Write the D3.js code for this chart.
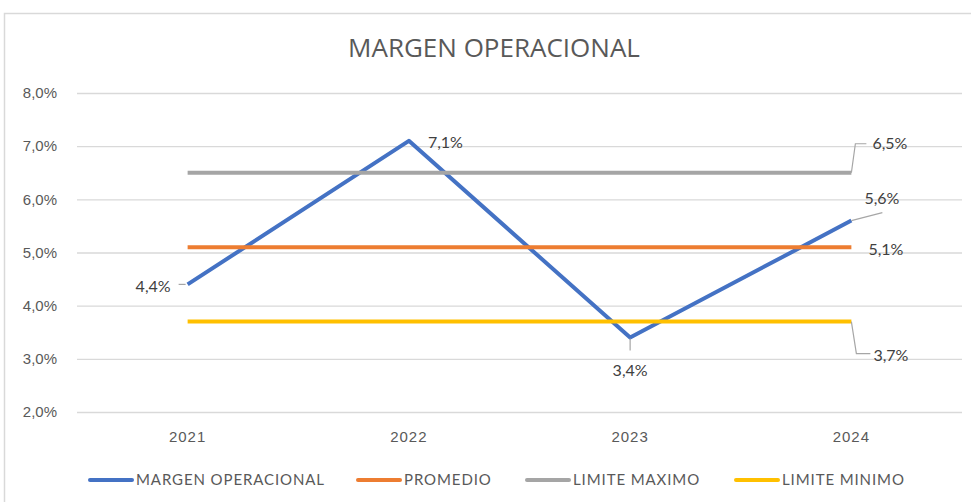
<!DOCTYPE html>
<html>
<head>
<meta charset="utf-8">
<script src="https://cdn.jsdelivr.net/npm/d3@7"></script>
<style>
  html, body { margin: 0; padding: 0; background: #fff; }
  svg { display: block; font-family: Lato, "Open Sans", sans-serif; }
</style>
</head>
<body>
<svg id="chart" width="971" height="502"></svg>
<script>
// Operating margin by year with reference limits
const years = ["2021", "2022", "2023", "2024"];
const margenOperacional = [4.4, 7.1, 3.4, 5.6];
const promedio = [5.1, 5.1, 5.1, 5.1];
const limiteMaximo = [6.5, 6.5, 6.5, 6.5];
const limiteMinimo = [3.7, 3.7, 3.7, 3.7];
const yTicks = [2, 3, 4, 5, 6, 7, 8];

const series = [
  { name: "MARGEN OPERACIONAL", values: margenOperacional, color: "#4472C4" },
  { name: "PROMEDIO", values: promedio, color: "#ED7D31" },
  { name: "LIMITE MAXIMO", values: limiteMaximo, color: "#A5A5A5" },
  { name: "LIMITE MINIMO", values: limiteMinimo, color: "#FFC000" }
];

const fmt = v => d3.format(".1f")(v).replace(".", ",") + "%";
const textColor = "#595959";

const svg = d3.select("#chart");

// chart frame
svg.append("rect")
  .attr("x", 4.5).attr("y", 13.5)
  .attr("width", 980).attr("height", 500)
  .attr("fill", "none").attr("stroke", "#D9D9D9").attr("stroke-width", 1.5);

const plot = { left: 77, right: 962, top: 93, bottom: 412 };

const x = d3.scaleBand().domain(years).range([plot.left, plot.right]);
const xc = d => x(d) + x.bandwidth() / 2;
const y = d3.scaleLinear().domain([2, 8]).range([plot.bottom, plot.top]);

// title
svg.append("text")
  .attr("x", 494).attr("y", 57)
  .attr("text-anchor", "middle")
  .attr("fill", textColor)
  .style("font-size", "26px")
  .style("font-family", "'Liberation Sans Narrow', 'Open Sans', sans-serif")
  .text("MARGEN OPERACIONAL");

// gridlines + y axis labels
const yAxis = d3.axisLeft(y).tickValues(yTicks)
  .tickSize(-(plot.right - plot.left)).tickPadding(20)
  .tickFormat(d => fmt(d));
const gy = svg.append("g").attr("transform", `translate(${plot.left},0)`).call(yAxis);
gy.select(".domain").remove();
gy.selectAll(".tick line").attr("stroke", "#D9D9D9").attr("stroke-width", 1.3);
gy.selectAll(".tick text").attr("fill", textColor).style("font-size", "15px");

// x axis labels
const xAxis = d3.axisBottom(x).tickSize(0).tickPadding(19);
const gx = svg.append("g").attr("transform", `translate(0,${plot.bottom})`).call(xAxis);
gx.select(".domain").remove();
gx.selectAll(".tick text").attr("fill", textColor)
  .style("font-size", "15px").style("letter-spacing", "1px");

// series lines
const line = d3.line().x((d, i) => xc(years[i])).y(d => y(d));
series.forEach(s => {
  svg.append("path")
    .datum(s.values)
    .attr("d", line)
    .attr("fill", "none")
    .attr("stroke", s.color)
    .attr("stroke-width", 4)
    .attr("stroke-linejoin", "round")
    .attr("stroke-linecap", "butt");
});

// data labels with leader lines
const lead = "#A6A6A6";
const labels = [
  { v: margenOperacional[0], xi: 0, dx: -17, dy: 2, anchor: "end", leader: d => [[d.x - 2, d.y], [d.x - 9, d.y]] },
  { v: margenOperacional[1], xi: 1, dx: 19, dy: 2, anchor: "start", leader: null },
  { v: margenOperacional[2], xi: 2, dx: 0, dy: 33, anchor: "middle", leader: d => [[d.x, d.y + 1], [d.x, d.y + 13]] },
  { v: margenOperacional[3], xi: 3, dx: 13, dy: -22, anchor: "start", leader: d => [[d.x, d.y], [d.x + 31, d.y - 8]] },
  { v: limiteMaximo[3], xi: 3, dx: 21, dy: -29, anchor: "start", leader: d => [[d.x, d.y], [d.x + 4, d.y - 29], [d.x + 15, d.y - 29]] },
  { v: promedio[3], xi: 3, dx: 17, dy: 2, anchor: "start", leader: null },
  { v: limiteMinimo[3], xi: 3, dx: 22, dy: 34, anchor: "start", leader: d => [[d.x, d.y], [d.x + 5, d.y + 32], [d.x + 19, d.y + 32]] }
];
labels.forEach(l => {
  const p = { x: xc(years[l.xi]), y: y(l.v) };
  if (l.leader) {
    svg.append("path")
      .attr("d", d3.line()(l.leader(p)))
      .attr("fill", "none").attr("stroke", lead).attr("stroke-width", 1.2);
  }
  svg.append("text")
    .attr("x", p.x + l.dx).attr("y", p.y + l.dy)
    .attr("dy", "0.35em")
    .attr("text-anchor", l.anchor)
    .attr("fill", "#404040")
    .style("font-size", "16px")
    .text(fmt(l.v));
});

// legend
const legendItems = [
  { s: series[0], x: 90 },
  { s: series[1], x: 358 },
  { s: series[2], x: 527 },
  { s: series[3], x: 736 }
];
const ly = 480;
legendItems.forEach(it => {
  svg.append("line")
    .attr("x1", it.x).attr("x2", it.x + 42)
    .attr("y1", ly).attr("y2", ly)
    .attr("stroke", it.s.color).attr("stroke-width", 4)
    .attr("stroke-linecap", "round");
  svg.append("text")
    .attr("x", it.x + 46).attr("y", ly).attr("dy", "0.35em")
    .attr("fill", textColor)
    .style("font-size", "15px")
    .style("letter-spacing", "0.9px")
    .text(it.s.name);
});
</script>
</body>
</html>
